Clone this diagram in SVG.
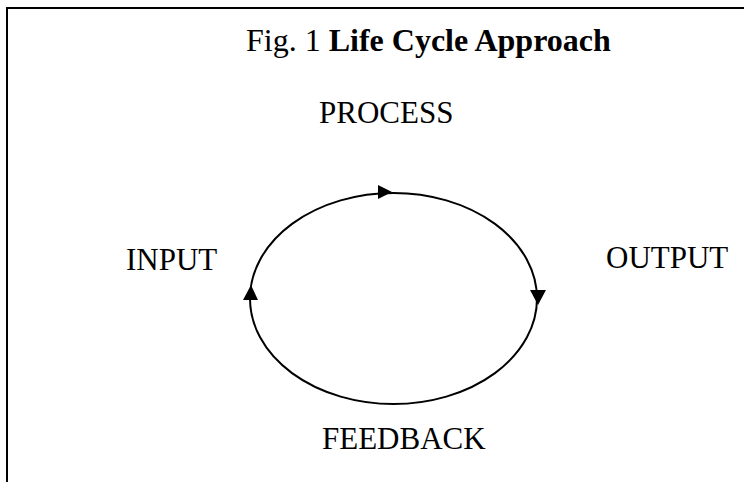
<svg xmlns="http://www.w3.org/2000/svg" width="744" height="482" viewBox="0 0 744 482">
<style>
.frame{fill:none;stroke:#000;stroke-width:2}
.lbl{font-family:"Liberation Serif","Times New Roman",serif;font-size:31px;fill:#000}
.ttl{font-size:32px}
.b{font-weight:bold}
.cyc{fill:none;stroke:#000;stroke-width:2}
.ah{fill:#000;stroke:none}
</style>
<rect width="744" height="482" fill="#fff"/>
<g id="frame">
<path class="frame" d="M7,482 V8 H744"/>
</g>
<g id="title">
<text class="lbl ttl" x="246" y="51">Fig. 1 <tspan class="b">Life Cycle Approach</tspan></text>
</g>
<g id="process"><text class="lbl" x="319" y="123">PROCESS</text></g>
<g id="input"><text class="lbl" x="126" y="270">INPUT</text></g>
<g id="output"><text class="lbl" x="606" y="268">OUTPUT</text></g>
<g id="feedback"><text class="lbl" x="322" y="449">FEEDBACK</text></g>
<g id="connectors">
<ellipse class="cyc" cx="393.5" cy="298.5" rx="143.5" ry="105.5"/>
<polygon class="ah" points="392,192 378,185 378,199"/>
<polygon class="ah" points="538,305 530,290 546,290"/>
<polygon class="ah" points="251,285 243,300 258,300"/>
</g>
</svg>
